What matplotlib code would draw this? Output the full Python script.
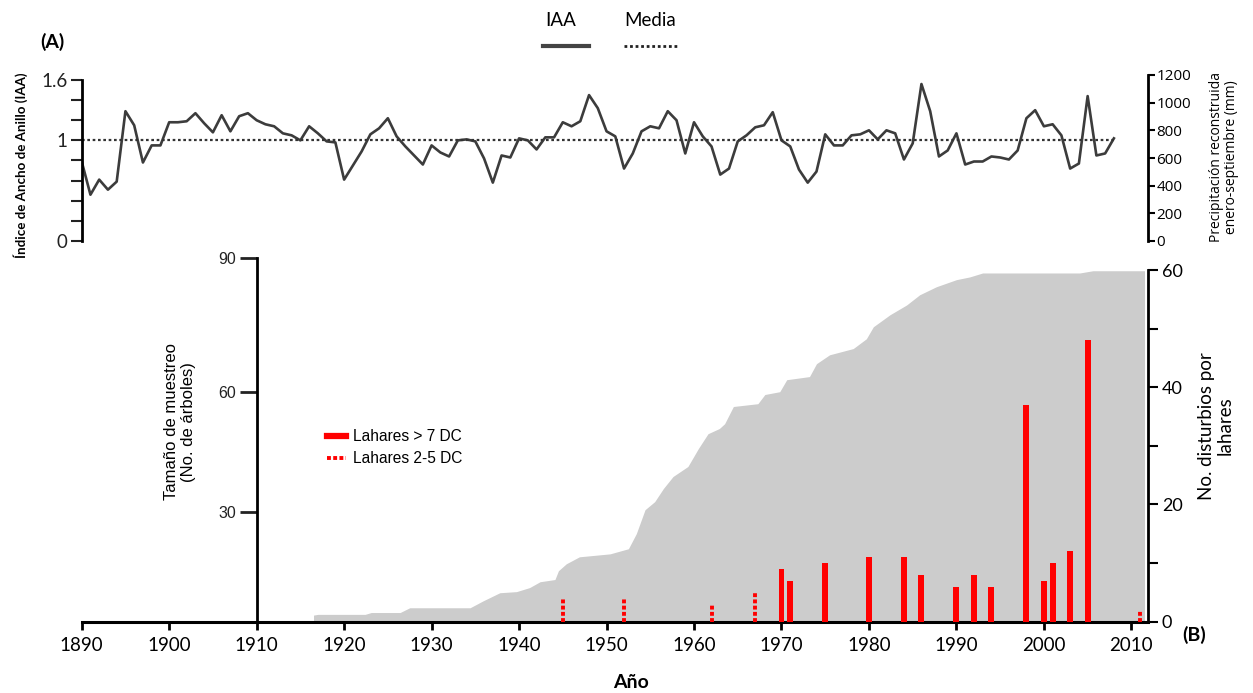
import matplotlib
matplotlib.use("Agg")
import matplotlib.pyplot as plt
import numpy as np
from matplotlib.lines import Line2D
from matplotlib.ticker import FixedLocator, NullFormatter

plt.rcParams['font.family'] = ['Lato', 'DejaVu Sans']

# ring width index (IAA), one value per year
iaa_years = list(range(1890, 2009))
iaa_values = [
    0.79, 0.46, 0.61, 0.51, 0.59, 1.29, 1.15, 0.78, 0.95, 0.95,
    1.18, 1.18, 1.19, 1.27, 1.17, 1.08, 1.25, 1.09, 1.24, 1.27,
    1.20, 1.16, 1.14, 1.07, 1.05, 1.00, 1.14, 1.07, 0.99, 0.98,
    0.61, 0.75, 0.89, 1.06, 1.12, 1.22, 1.04, 0.94, 0.85, 0.76,
    0.95, 0.88, 0.84, 1.00, 1.01, 0.99, 0.82, 0.58, 0.85, 0.83,
    1.02, 1.00, 0.91, 1.03, 1.03, 1.18, 1.14, 1.19, 1.45, 1.32,
    1.09, 1.04, 0.72, 0.87, 1.09, 1.14, 1.12, 1.29, 1.20, 0.87,
    1.18, 1.04, 0.94, 0.66, 0.72, 0.99, 1.05, 1.13, 1.15, 1.28,
    1.00, 0.94, 0.71, 0.58, 0.69, 1.06, 0.95, 0.95, 1.05, 1.06,
    1.10, 1.01, 1.10, 1.07, 0.81, 0.97, 1.56, 1.29, 0.84, 0.90,
    1.07, 0.76, 0.79, 0.79, 0.84, 0.83, 0.81, 0.90, 1.22, 1.30,
    1.14, 1.16, 1.05, 0.72, 0.77, 1.44, 0.85, 0.87, 1.02,
]
iaa_mean = 1.0

# sample depth (number of trees)
sample_years = [1916.5, 1917, 1922.4, 1923.1, 1926.4, 1927.5, 1934.4, 1935.9, 1937.8,
                1939.7, 1941.2, 1942.4, 1944.1, 1944.5, 1945.4, 1946.9, 1950.4, 1952.5,
                1953.4, 1954.4, 1955.5, 1956.5, 1957.6, 1959.3, 1960.5, 1961.6, 1962.9,
                1963.5, 1964.5, 1967.3, 1968.1, 1969.8, 1970.6, 1973.2, 1974, 1975.5,
                1978.2, 1979.7, 1980.5, 1982.4, 1984.3, 1985.8, 1987.7, 1990, 1991.5,
                1993, 2004.1, 2005.6, 2011.5]
sample_trees = [1.8, 2, 2, 2.5, 2.5, 3.8, 3.8, 5.7, 7.9,
                8.2, 9.3, 10.9, 11.5, 13.9, 15.8, 17.7, 18.5, 19.9,
                24, 30.5, 32.5, 35.8, 38.8, 41.3, 45.8, 49.5, 50.8,
                52, 56.3, 57, 59.3, 60, 62.7, 63.4, 66.3, 68.3,
                69.7, 71.9, 74.6, 77.3, 79.5, 81.8, 83.6, 85.2, 85.8,
                86.7, 86.7, 87.2, 87.2]

# lahar disturbances
big_years = [1970, 1971, 1975, 1980, 1984, 1986, 1990, 1992, 1994, 1998, 2000, 2001, 2003, 2005]
big_counts = [9, 7, 10, 11, 11, 8, 6, 8, 6, 37, 7, 10, 12, 48]
small_years = [1945, 1952, 1962, 1967, 2011]
small_counts = [4, 4, 3, 5, 2]

W, H = 1253, 693
fig = plt.figure(figsize=(W / 100, H / 100), dpi=100)

x0, x1 = 81.7 / W, 1148 / W
xmax = 2011.9

# ---- panel A
axa = fig.add_axes([x0, 1 - 241 / H, x1 - x0, 166 / H])
axa.plot(iaa_years, iaa_values, color='#3c3c3c', lw=1.9, solid_joinstyle='round')
axa.plot([iaa_years[0], iaa_years[-1]], [iaa_mean, iaa_mean], color='#333333', lw=1.6, ls=(0, (1.2, 1.2)))
axa.set_xlim(1890, xmax)
axa.set_ylim(0, 1.6 * 166 / 161)
for s in ['top', 'bottom', 'right']:
    axa.spines[s].set_visible(False)
axa.spines['left'].set_bounds(0, 1.6)
axa.spines['left'].set_linewidth(2)
axa.set_xticks([])
axa.yaxis.set_major_locator(FixedLocator([0, 1, 1.6]))
axa.yaxis.set_minor_locator(FixedLocator([0.2, 0.4, 0.6, 0.8, 1.2, 1.4]))
axa.set_yticklabels(['0', '1', '1.6'])
axa.tick_params(axis='y', which='both', length=8, width=1.5, labelsize=13.5, pad=2, colors='#222222')
axa.patch.set_alpha(0)

axr = axa.twinx()
axr.set_ylim(0, 1200)
for s in ['top', 'bottom', 'left']:
    axr.spines[s].set_visible(False)
axr.spines['right'].set_linewidth(2)
axr.set_yticks(range(0, 1201, 200))
axr.tick_params(axis='y', length=5, width=1.5, labelsize=11, pad=1)
for t in axr.get_yticklabels():
    t.set_fontfamily('Open Sans')

# ---- panel B
def fwd(v):
    return np.interp(v, [0, 30, 60, 90], [0, 110, 230, 363.4])


def inv(p):
    return np.interp(p, [0, 110, 230, 363.4], [0, 30, 60, 90])


axb = fig.add_axes([x0, 1 - 621.7 / H, x1 - x0, 363.4 / H])
axb.set_yscale('function', functions=(fwd, inv))
axb.fill_between(sample_years, 0, sample_trees, color='#cccccc', lw=0)
axb.set_xlim(1890, xmax)
axb.set_ylim(0, 90)
axb.spines['top'].set_visible(False)
axb.spines['right'].set_visible(False)
axb.spines['left'].set_position(('data', 1910))
axb.spines['left'].set_bounds(0, 90)
axb.spines['left'].set_linewidth(2)
axb.spines['bottom'].set_linewidth(2.2)
axb.set_xticks(range(1890, 2011, 10))
axb.tick_params(axis='x', length=6, width=2, labelsize=13.5, pad=5)
axb.yaxis.set_major_locator(FixedLocator([30, 60, 90]))
axb.yaxis.set_minor_formatter(NullFormatter())
axb.yaxis.set_minor_locator(FixedLocator([]))
axb.set_yticklabels(['30', '60', '90'])
axb.tick_params(axis='y', length=12, width=2, labelsize=11.5, pad=3, colors='#222222')
for t in axb.get_yticklabels():
    t.set_fontfamily('Liberation Sans')

axt = axb.twinx()
axt.bar(big_years, big_counts, width=0.68, color='#ff0000', lw=0)
axt.vlines(small_years, 0, small_counts, colors='#ff0000', lw=2.8, linestyles=(0, (1, 0.6)))
axt.set_ylim(0, 60 * 363.4 / 351.7)
axt.set_xlim(1890, xmax)
for s in ['top', 'bottom', 'left']:
    axt.spines[s].set_visible(False)
axt.spines['right'].set_bounds(0, 60)
axt.spines['right'].set_linewidth(2)
axt.yaxis.set_major_locator(FixedLocator([0, 20, 40, 60]))
axt.yaxis.set_minor_locator(FixedLocator([10, 30, 50]))
axt.tick_params(axis='y', which='both', length=7, width=1.5, labelsize=13, pad=3)

handles = [Line2D([], [], color='#ff0000', lw=4.5),
           Line2D([], [], color='#ff0000', lw=2.8, ls=(0, (1, 0.6)))]
leg = axt.legend(handles, ['Lahares > 7 DC', 'Lahares 2-5 DC'], loc='upper left',
                 bbox_to_anchor=(327 / W, 1 - 429 / H), bbox_transform=fig.transFigure,
                 frameon=False, handlelength=1.25, handletextpad=0.45, labelspacing=0.45,
                 borderpad=0, borderaxespad=0, prop={'family': 'Liberation Sans', 'size': 11.2})

# ---- texts and top legend
fig.text(52 / W, 1 - 42 / H, '(A)', fontsize=14, fontweight='bold', ha='center', va='center')
fig.text(1194 / W, 1 - 635 / H, '(B)', fontsize=14, fontweight='bold', ha='center', va='center')
fig.text(631 / W, 1 - 683 / H, 'Año', fontsize=14, fontweight='bold', ha='center', va='center')
fig.text(21 / W, 1 - 165 / H, 'Índice de Ancho de Anillo (IAA)', fontsize=9.6, fontweight='bold',
         rotation=90, ha='center', va='center')
fig.text(1224 / W, 1 - 157 / H, 'Precipitación reconstruida\nenero-septiembre (mm)', fontsize=10,
         family='Open Sans', rotation=90, ha='center', va='center', multialignment='center',
         linespacing=1.0)
fig.text(180 / W, 1 - 422 / H, 'Tamaño de muestreo\n(No. de árboles)', fontsize=12,
         family='Liberation Sans', rotation=90, ha='center', va='center', multialignment='center')
fig.text(1216 / W, 1 - 426 / H, 'No. disturbios por\nlahares', fontsize=13.5,
         rotation=90, ha='center', va='center', multialignment='center', linespacing=1.1)

fig.text(561 / W, 1 - 20 / H, 'IAA', fontsize=13.5, ha='center', va='center')
fig.text(650 / W, 1 - 20 / H, 'Media', fontsize=13.5, ha='center', va='center')
fig.add_artist(Line2D([543 / W, 589 / W], [1 - 45.7 / H] * 2, color='#444444', lw=3))
fig.add_artist(Line2D([624 / W, 677 / W], [1 - 45.7 / H] * 2, color='#222222', lw=2,
                      ls=(0, (1, 1))))

fig.savefig('out.png', dpi=100)
